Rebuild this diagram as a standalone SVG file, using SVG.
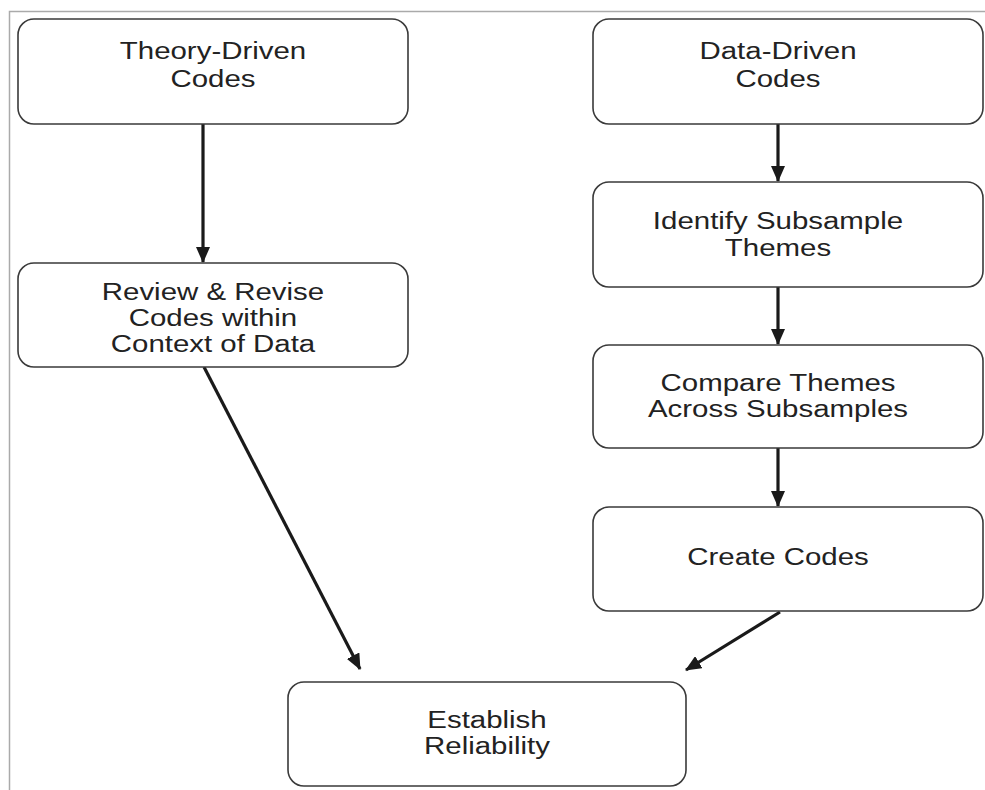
<svg xmlns="http://www.w3.org/2000/svg" width="985" height="790" viewBox="0 0 985 790">
<defs>
<marker id="ah" markerWidth="16" markerHeight="14" refX="15" refY="7" orient="auto" markerUnits="userSpaceOnUse">
<path d="M0,0 L16,7 L0,14 Z" fill="#1a1a1a"/>
</marker>
<style>
.box{fill:#fff;stroke:#3a3a3a;stroke-width:1.6}
.t{font-family:"Liberation Sans",Arial,sans-serif;font-size:23px;fill:#222;text-anchor:middle}
.c{stroke:#1a1a1a;stroke-width:3.2;fill:none;marker-end:url(#ah)}
</style>
</defs>
<rect width="985" height="790" fill="#fff"/>
<path d="M9.5,790 V11.5 H985" fill="none" stroke="#aaa" stroke-width="1.5"/>
<g id="connectors">
<line class="c" x1="203" y1="124" x2="203" y2="262"/>
<line class="c" x1="778" y1="124" x2="778" y2="181"/>
<line class="c" x1="778" y1="287" x2="778" y2="344"/>
<line class="c" x1="778" y1="448" x2="778" y2="506"/>
<line class="c" x1="204" y1="367" x2="360" y2="669"/>
<line class="c" x1="780" y1="612" x2="686" y2="670"/>
</g>
<g id="theory">
<rect class="box" x="18" y="19" width="390" height="105" rx="16"/>
<g transform="translate(213 0) scale(1.28 1)">
<text class="t" x="0" y="59">Theory-Driven</text>
<text class="t" x="0" y="87">Codes</text>
</g>
</g>
<g id="data">
<rect class="box" x="593" y="19" width="390" height="105" rx="16"/>
<g transform="translate(778 0) scale(1.28 1)">
<text class="t" x="0" y="59">Data-Driven</text>
<text class="t" x="0" y="87">Codes</text>
</g>
</g>
<g id="review">
<rect class="box" x="18" y="263" width="390" height="104" rx="16"/>
<g transform="translate(213 0) scale(1.28 1)">
<text class="t" x="0" y="300">Review &amp; Revise</text>
<text class="t" x="0" y="326">Codes within</text>
<text class="t" x="0" y="352">Context of Data</text>
</g>
</g>
<g id="identify">
<rect class="box" x="593" y="182" width="390" height="105" rx="16"/>
<g transform="translate(778 0) scale(1.28 1)">
<text class="t" x="0" y="229">Identify Subsample</text>
<text class="t" x="0" y="256">Themes</text>
</g>
</g>
<g id="compare">
<rect class="box" x="593" y="345" width="390" height="103" rx="16"/>
<g transform="translate(778 0) scale(1.28 1)">
<text class="t" x="0" y="391">Compare Themes</text>
<text class="t" x="0" y="417">Across Subsamples</text>
</g>
</g>
<g id="create">
<rect class="box" x="593" y="507" width="390" height="104" rx="16"/>
<g transform="translate(778 0) scale(1.28 1)">
<text class="t" x="0" y="565">Create Codes</text>
</g>
</g>
<g id="establish">
<rect class="box" x="288" y="682" width="398" height="104" rx="16"/>
<g transform="translate(487 0) scale(1.28 1)">
<text class="t" x="0" y="728">Establish</text>
<text class="t" x="0" y="754">Reliability</text>
</g>
</g>
</svg>
